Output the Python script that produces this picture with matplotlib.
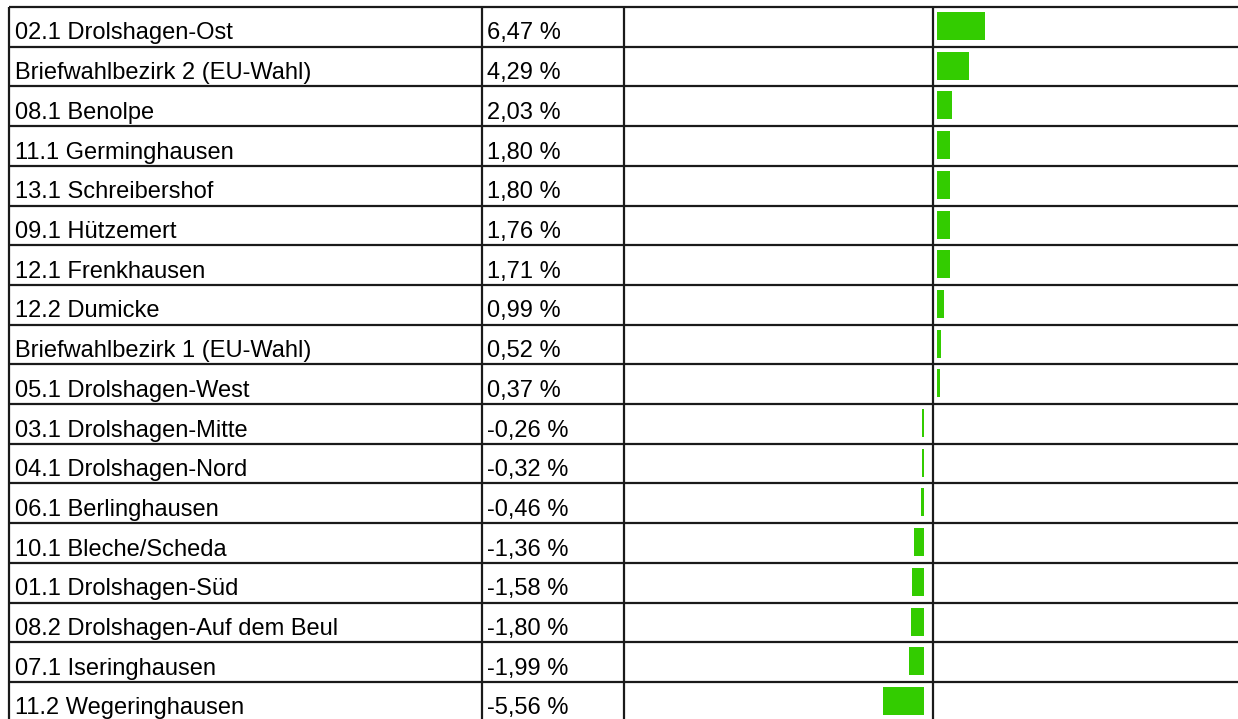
import matplotlib
matplotlib.use("Agg")
import matplotlib.pyplot as plt
from matplotlib import font_manager as fm

names = [
    "02.1 Drolshagen-Ost",
    "Briefwahlbezirk 2 (EU-Wahl)",
    "08.1 Benolpe",
    "11.1 Germinghausen",
    "13.1 Schreibershof",
    "09.1 Hützemert",
    "12.1 Frenkhausen",
    "12.2 Dumicke",
    "Briefwahlbezirk 1 (EU-Wahl)",
    "05.1 Drolshagen-West",
    "03.1 Drolshagen-Mitte",
    "04.1 Drolshagen-Nord",
    "06.1 Berlinghausen",
    "10.1 Bleche/Scheda",
    "01.1 Drolshagen-Süd",
    "08.2 Drolshagen-Auf dem Beul",
    "07.1 Iseringhausen",
    "11.2 Wegeringhausen",
]
changes = [6.47, 4.29, 2.03, 1.80, 1.80, 1.76, 1.71, 0.99, 0.52, 0.37,
           -0.26, -0.32, -0.46, -1.36, -1.58, -1.80, -1.99, -5.56]

# regular-width Liberation Sans (avoid the Narrow variant)
font_file = None
for f in fm.fontManager.ttflist:
    if f.name == "Liberation Sans" and f.style == "normal" and f.weight in (400, "normal") \
            and "Narrow" not in f.fname:
        font_file = f.fname
        break
fsize = 17
if font_file:
    fprop = fm.FontProperties(fname=font_file, size=fsize)
else:
    fprop = fm.FontProperties(family=["Liberation Sans", "DejaVu Sans"], size=fsize)

W, H = 1238, 719
fig = plt.figure(figsize=(W / 100, H / 100), dpi=100)
fig.patch.set_facecolor("white")

# table frame in pixel coordinates
ax = fig.add_axes([0, 0, 1, 1])
ax.set_xlim(0, W)
ax.set_ylim(H, 0)
ax.axis("off")

top = 7.0
row_h = 39.7
n = len(names)
x_left, x_c1, x_c2, x_zero = 9.0, 481.5, 624.0, 933.0
line_kw = dict(color="#1a1a1a", lw=1.6, solid_capstyle="butt", zorder=3)

for i in range(n + 1):
    y = top + i * row_h
    ax.plot([x_left, W], [y, y], **line_kw)
for x in (x_left, x_c1, x_c2, x_zero):
    ax.plot([x, x], [top, H + 5], **line_kw)

fmt = lambda v: f"{v:.2f}".replace(".", ",") + " %"
for i, (name, v) in enumerate(zip(names, changes)):
    yb = top + i * row_h + 32.5
    ax.text(15, yb, name, fontproperties=fprop, va="baseline", ha="left", color="black")
    ax.text(487, yb, fmt(v), fontproperties=fprop, va="baseline", ha="left", color="black")

# bar column with its own percentage scale
px_per_pct = 7.4
y_bottom = top + n * row_h
bax = fig.add_axes([x_c2 / W, 1 - y_bottom / H, (W - x_c2) / W, (y_bottom - top) / H])
bax.set_xlim(-(x_zero - x_c2) / px_per_pct, (W - x_zero) / px_per_pct)
bax.set_ylim(n, 0)
bax.axis("off")
bax.patch.set_alpha(0)

gap_pos = 4 / px_per_pct
gap_neg = 9 / px_per_pct
for i, v in enumerate(changes):
    start = gap_pos if v >= 0 else -gap_neg
    bax.barh(i + 0.48, v, left=start, height=0.705, color="#33cc00", zorder=2)

fig.savefig("out.png", dpi=100, facecolor="white")
